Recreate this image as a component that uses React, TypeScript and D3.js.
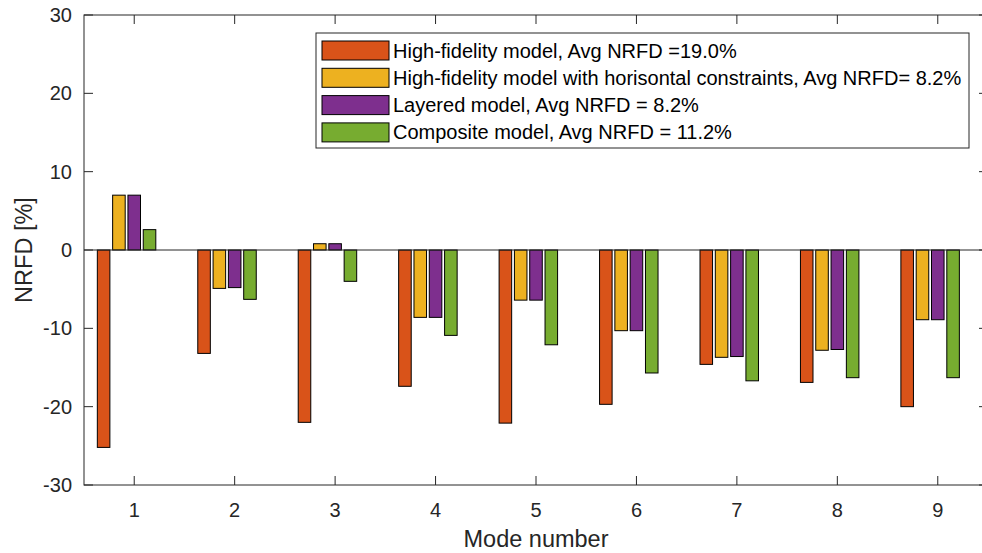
import React from "react";
import * as d3 from "d3";

const modes = [1, 2, 3, 4, 5, 6, 7, 8, 9];
const highFidelity = [-25.2, -13.2, -22.0, -17.4, -22.1, -19.7, -14.6, -16.9, -20.0];
const highFidelityHoriz = [7.0, -4.9, 0.8, -8.6, -6.4, -10.3, -13.7, -12.8, -8.9];
const layered = [7.0, -4.8, 0.8, -8.6, -6.4, -10.3, -13.6, -12.7, -8.9];
const composite = [2.6, -6.3, -4.0, -10.9, -12.1, -15.7, -16.7, -16.3, -16.3];
const emptySeries = [0, 0, 0, 0, 0, 0, 0, 0, 0];

const seriesNames = [
  "High-fidelity model, Avg NRFD =19.0%",
  "High-fidelity model with horisontal constraints, Avg NRFD= 8.2%",
  "Layered model, Avg NRFD = 8.2%",
  "Composite model, Avg NRFD = 11.2%",
  "",
];
const seriesColors = ["#D95319", "#EDB120", "#7E2F8E", "#77AC30", "#4DBEEE"];
const seriesValues = [highFidelity, highFidelityHoriz, layered, composite, emptySeries];

const yTicks = [-30, -20, -10, 0, 10, 20, 30];

const W = 982;
const H = 553;
const FONT = "'Liberation Sans', Arial, Helvetica, sans-serif";
const AX = "#262626";

export default function App() {
  const left = 84, right = 988, top = 15, bottom = 485;
  const x = d3.scaleLinear().domain([0.5, 9.5]).range([left, right]);
  const y = d3.scaleLinear().domain([-30, 30]).range([bottom, top]);
  const inner = d3
    .scaleBand<number>()
    .domain(d3.range(seriesValues.length))
    .range([-0.381, 0.381])
    .paddingInner(0.18)
    .paddingOuter(0.09);
  const pxPerUnit = x(1) - x(0);
  const bw = inner.bandwidth() * pxPerUnit;
  const tickLen = 9;

  const legendItems = seriesNames
    .map((n, i) => ({ n, c: seriesColors[i] }))
    .filter((d) => d.n !== "");

  return (
    <svg
      width={W}
      height={H}
      style={{ position: "absolute", left: 0, top: 0, background: "#fff" }}
      fontFamily={FONT}
    >
      <rect x={0} y={0} width={W} height={H} fill="#fff" />
      {/* bars */}
      {seriesValues.map((vals, si) =>
        vals.map((v, mi) => {
          const cx = x(modes[mi] + (inner(si) as number));
          const y0 = y(0);
          const y1 = y(v);
          return (
            <rect
              key={`${si}-${mi}`}
              x={cx}
              y={Math.min(y0, y1)}
              width={bw}
              height={Math.abs(y1 - y0)}
              fill={seriesColors[si]}
              stroke="#000"
              strokeWidth={1}
            />
          );
        })
      )}
      {/* baseline */}
      <line x1={left} x2={right} y1={y(0)} y2={y(0)} stroke={AX} strokeWidth={1} />
      {/* axes box */}
      <rect x={left} y={top} width={right - left} height={bottom - top} fill="none" stroke={AX} strokeWidth={1} />
      {/* x ticks */}
      {modes.map((m) => (
        <g key={`xt${m}`}>
          <line x1={x(m)} x2={x(m)} y1={bottom} y2={bottom - tickLen} stroke={AX} />
          <line x1={x(m)} x2={x(m)} y1={top} y2={top + tickLen} stroke={AX} />
          <text x={x(m)} y={517} textAnchor="middle" fontSize={20} fill={AX}>
            {m}
          </text>
        </g>
      ))}
      {/* y ticks */}
      {yTicks.map((t) => (
        <g key={`yt${t}`}>
          <line x1={left} x2={left + tickLen} y1={y(t)} y2={y(t)} stroke={AX} />
          <line x1={right} x2={right - tickLen} y1={y(t)} y2={y(t)} stroke={AX} />
          <text x={72} y={y(t) + 7} textAnchor="end" fontSize={20} fill={AX}>
            {t}
          </text>
        </g>
      ))}
      {/* axis labels */}
      <text x={(left + right) / 2} y={547} textAnchor="middle" fontSize={23.5} fill={AX}>
        Mode number
      </text>
      <text
        transform={`translate(32,${(top + bottom) / 2}) rotate(-90)`}
        textAnchor="middle"
        fontSize={23.5}
        fill={AX}
      >
        NRFD [%]
      </text>
      {/* legend */}
      <rect x={316} y={33} width={653} height={115} fill="#fff" stroke={AX} strokeWidth={1} />
      {legendItems.map((d, i) => {
        const cy = 50.5 + i * 27.3;
        return (
          <g key={`lg${i}`}>
            <rect x={322} y={cy - 9.5} width={67} height={19} fill={d.c} stroke="#000" strokeWidth={1} />
            <text x={393} y={cy + 7} fontSize={20} fill="#000">
              {d.n}
            </text>
          </g>
        );
      })}
    </svg>
  );
}
